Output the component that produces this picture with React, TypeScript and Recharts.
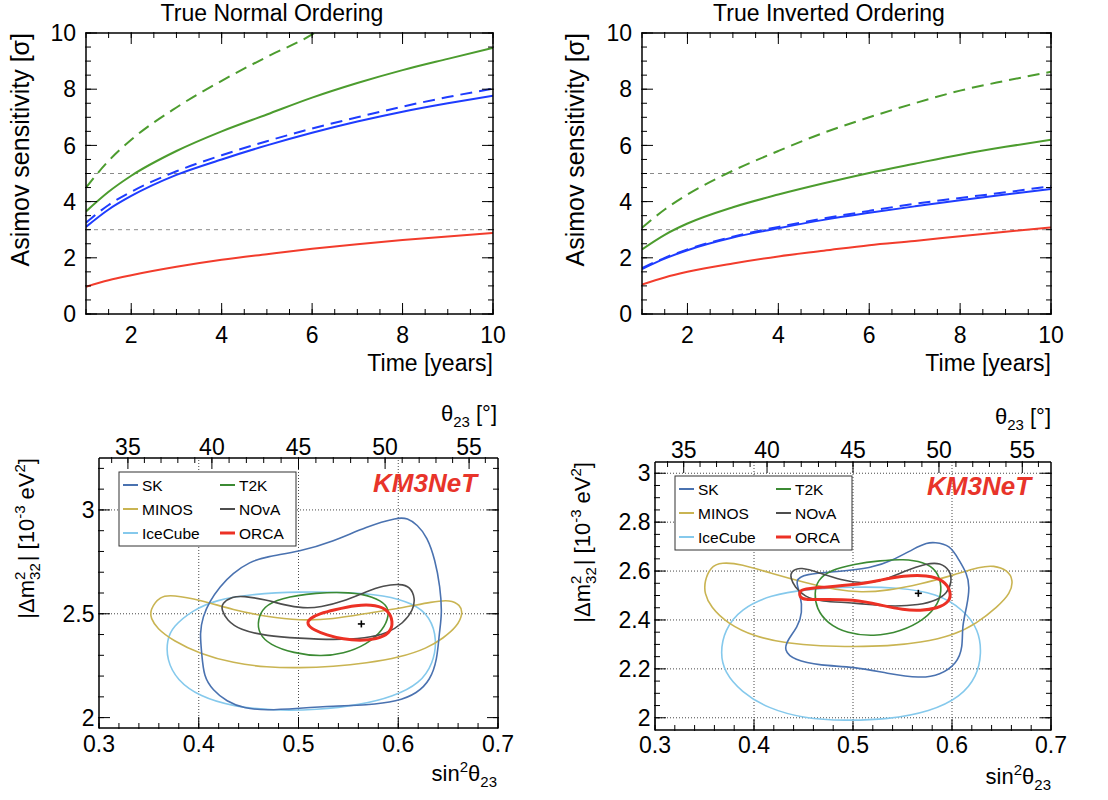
import React from 'react'
import { ComposedChart, Line, Scatter, XAxis, YAxis, ReferenceLine } from 'recharts'

const FONT = '"Liberation Sans", Arial, Helvetica, sans-serif'
const AXIS = { stroke: '#000', strokeWidth: 1.5 }
const TICKLINE = { stroke: '#000', strokeWidth: 1 }
const TICKFONT = { fontSize: 23, fill: '#000', fontFamily: FONT }

// ---- top panels: Asimov sensitivity vs. time
const years = [1, 1.5, 2, 3, 4, 5, 6, 7, 8, 9, 10]
const yearsGreenDashNO = [1, 1.5, 2, 3, 4, 5, 6, 6.05]

const greenDashNO = [4.5, 5.45, 6.2, 7.35, 8.3, 9.15, 9.95, 10.0]
const greenNO = [3.65, 4.35, 4.92, 5.8, 6.5, 7.1, 7.7, 8.22, 8.68, 9.08, 9.47]
const blueDashNO = [3.25, 3.88, 4.35, 5.08, 5.65, 6.15, 6.6, 7.0, 7.38, 7.72, 8.02]
const blueNO = [3.1, 3.72, 4.2, 4.95, 5.5, 6.0, 6.45, 6.85, 7.2, 7.5, 7.77]
const redNO = [0.97, 1.2, 1.38, 1.68, 1.93, 2.13, 2.32, 2.48, 2.63, 2.76, 2.88]

const greenDashIO = [3.07, 3.72, 4.25, 5.1, 5.8, 6.45, 7.0, 7.5, 7.95, 8.3, 8.62]
const greenIO = [2.3, 2.82, 3.22, 3.8, 4.25, 4.65, 5.02, 5.35, 5.67, 5.95, 6.2]
const blueDashIO = [1.63, 2.0, 2.3, 2.75, 3.1, 3.4, 3.67, 3.92, 4.13, 4.33, 4.55]
const blueIO = [1.6, 1.97, 2.27, 2.72, 3.05, 3.35, 3.6, 3.83, 4.05, 4.25, 4.45]
const redIO = [1.05, 1.3, 1.5, 1.8, 2.05, 2.25, 2.45, 2.6, 2.77, 2.93, 3.08]

const sigmaRefs = [3, 5]
const timeLabels = [2, 4, 6, 8, 10]
const sigmaLabels = [0, 2, 4, 6, 8, 10]

// ---- bottom panels: contours in (sin^2 theta23, |dm2_32|)
type Pt = [number, number]

const skNO: Pt[] = [[0.600, 2.965], [0.568, 2.92], [0.535, 2.848], [0.501, 2.80], [0.468, 2.775], [0.451, 2.75], [0.434, 2.695], [0.421, 2.63], [0.411, 2.56], [0.404, 2.486], [0.401, 2.406], [0.403, 2.31], [0.405, 2.197], [0.414, 2.133], [0.428, 2.077], [0.445, 2.045], [0.468, 2.034], [0.501, 2.045], [0.535, 2.056], [0.568, 2.06], [0.599, 2.077], [0.619, 2.117], [0.632, 2.18], [0.639, 2.278], [0.641, 2.406], [0.644, 2.5], [0.642, 2.63], [0.637, 2.76], [0.629, 2.87], [0.619, 2.93], [0.609, 2.96]]
const minosNO: Pt[] = [[0.351, 2.518], [0.361, 2.586], [0.374, 2.59], [0.401, 2.567], [0.435, 2.518], [0.468, 2.486], [0.501, 2.467], [0.535, 2.474], [0.568, 2.502], [0.602, 2.527], [0.635, 2.559], [0.652, 2.567], [0.662, 2.543], [0.665, 2.502], [0.659, 2.438], [0.645, 2.382], [0.629, 2.334], [0.602, 2.29], [0.568, 2.262], [0.535, 2.246], [0.501, 2.239], [0.468, 2.242], [0.435, 2.262], [0.401, 2.307], [0.374, 2.371], [0.358, 2.43], [0.352, 2.478]]
const iceNO: Pt[] = [[0.368, 2.374], [0.374, 2.438], [0.394, 2.518], [0.418, 2.567], [0.451, 2.594], [0.501, 2.607], [0.552, 2.603], [0.585, 2.59], [0.615, 2.551], [0.632, 2.486], [0.639, 2.374], [0.635, 2.262], [0.622, 2.165], [0.595, 2.101], [0.562, 2.061], [0.518, 2.037], [0.475, 2.034], [0.435, 2.053], [0.401, 2.101], [0.378, 2.181], [0.368, 2.278]]
const t2kNO: Pt[] = [[0.459, 2.47], [0.465, 2.534], [0.481, 2.575], [0.518, 2.602], [0.552, 2.605], [0.575, 2.583], [0.589, 2.543], [0.591, 2.494], [0.585, 2.422], [0.568, 2.35], [0.545, 2.307], [0.522, 2.294], [0.495, 2.31], [0.471, 2.35], [0.46, 2.406]]
const novaNO: Pt[] = [[0.423, 2.55], [0.434, 2.583], [0.444, 2.586], [0.468, 2.567], [0.485, 2.543], [0.505, 2.526], [0.522, 2.531], [0.545, 2.559], [0.568, 2.607], [0.585, 2.636], [0.602, 2.644], [0.612, 2.631], [0.617, 2.575], [0.615, 2.518], [0.605, 2.454], [0.589, 2.406], [0.568, 2.382], [0.535, 2.374], [0.501, 2.382], [0.468, 2.393], [0.441, 2.422], [0.428, 2.47], [0.423, 2.518]]
const orcaNO: Pt[] = [[0.508, 2.451], [0.511, 2.478], [0.522, 2.502], [0.535, 2.518], [0.558, 2.543], [0.578, 2.543], [0.59, 2.518], [0.595, 2.462], [0.592, 2.406], [0.578, 2.377], [0.562, 2.371], [0.545, 2.377], [0.528, 2.398], [0.515, 2.422]]
const bestNO: Pt = [0.563, 2.451]

const skIO: Pt[] = [[0.582, 2.718], [0.598, 2.707], [0.607, 2.645], [0.615, 2.591], [0.618, 2.536], [0.615, 2.454], [0.61, 2.372], [0.611, 2.29], [0.605, 2.222], [0.588, 2.175], [0.568, 2.161], [0.535, 2.181], [0.501, 2.209], [0.467, 2.213], [0.44, 2.236], [0.43, 2.277], [0.434, 2.318], [0.444, 2.372], [0.449, 2.427], [0.447, 2.509], [0.441, 2.563], [0.451, 2.588], [0.484, 2.598], [0.518, 2.611], [0.541, 2.645], [0.562, 2.693], [0.575, 2.716]]
const minosIO: Pt[] = [[0.35, 2.557], [0.356, 2.618], [0.367, 2.636], [0.387, 2.629], [0.417, 2.591], [0.451, 2.553], [0.484, 2.522], [0.508, 2.513], [0.535, 2.52], [0.568, 2.546], [0.602, 2.584], [0.629, 2.618], [0.642, 2.623], [0.656, 2.604], [0.662, 2.563], [0.659, 2.509], [0.646, 2.454], [0.625, 2.386], [0.602, 2.338], [0.568, 2.307], [0.535, 2.293], [0.501, 2.291], [0.467, 2.293], [0.434, 2.304], [0.4, 2.332], [0.373, 2.386], [0.356, 2.454], [0.35, 2.509]]
const iceIO: Pt[] = [[0.37, 2.359], [0.387, 2.447], [0.417, 2.502], [0.451, 2.525], [0.501, 2.536], [0.545, 2.533], [0.585, 2.509], [0.612, 2.441], [0.627, 2.359], [0.63, 2.263], [0.625, 2.168], [0.609, 2.086], [0.578, 2.025], [0.535, 1.993], [0.491, 1.988], [0.451, 1.997], [0.414, 2.038], [0.387, 2.106], [0.37, 2.188], [0.366, 2.263]]
const t2kIO: Pt[] = [[0.464, 2.563], [0.477, 2.604], [0.501, 2.629], [0.528, 2.643], [0.551, 2.649], [0.571, 2.638], [0.585, 2.604], [0.59, 2.536], [0.587, 2.468], [0.572, 2.4], [0.548, 2.352], [0.521, 2.332], [0.494, 2.345], [0.474, 2.386], [0.463, 2.447], [0.461, 2.509]]
const novaIO: Pt[] = [[0.437, 2.598], [0.447, 2.618], [0.467, 2.591], [0.488, 2.563], [0.508, 2.55], [0.528, 2.557], [0.551, 2.598], [0.575, 2.632], [0.588, 2.634], [0.598, 2.604], [0.6, 2.557], [0.595, 2.509], [0.585, 2.482], [0.568, 2.461], [0.535, 2.454], [0.501, 2.471], [0.467, 2.475], [0.451, 2.495], [0.441, 2.536], [0.437, 2.571]]
const orcaIO: Pt[] = [[0.446, 2.512], [0.447, 2.525], [0.467, 2.533], [0.501, 2.543], [0.528, 2.563], [0.551, 2.581], [0.575, 2.584], [0.592, 2.563], [0.599, 2.516], [0.598, 2.475], [0.585, 2.447], [0.568, 2.438], [0.551, 2.441], [0.528, 2.461], [0.501, 2.484], [0.467, 2.484], [0.451, 2.482], [0.446, 2.495]]
const bestIO: Pt = [0.566, 2.509]

const expNames = ['SK', 'T2K', 'MINOS', 'NOvA', 'IceCube', 'ORCA']
const expColors: Record<string, string> = {
  SK: '#4a72b0',
  T2K: '#3b8a33',
  MINOS: '#c9b452',
  NOvA: '#4d4d4d',
  IceCube: '#85c9ec',
  ORCA: '#ec3125',
}

// tick labels
const sinLabels = [0.3, 0.4, 0.5, 0.6, 0.7]
const thetaLabels = [35, 40, 45, 50, 55]
const dmLabelsNO = [2, 2.5, 3]
const dmLabelsIO = [2, 2.2, 2.4, 2.6, 2.8, 3]

const GREEN = '#4c9c2e'
const BLUE = '#1e3cff'
const RED = '#f23c2c'

const r3 = (v: number) => Math.round(v * 1000) / 1000
const range = (a: number, b: number, step: number) => {
  const out: number[] = []
  for (let i = 0; a + i * step <= b + 1e-9; i++) out.push(r3(a + i * step))
  return out
}
const blank = () => ''

const timeTicks = range(1, 10, 0.5)
const sigmaTicks = range(0, 10, 0.5)
const sinTicks = range(0.3, 0.7, 0.02)
const thetaDegTicks = range(34, 56, 1)
const sin2 = (deg: number) => Math.sin((deg * Math.PI) / 180) ** 2
const toDeg = (v: number) => String(Math.round((Math.asin(Math.sqrt(v)) * 180) / Math.PI))

const common = { type: 'number' as const, allowDataOverflow: true, interval: 0 as const, tick: TICKFONT }

// four frame sides, each with a major (long tick) and a minor (short tick) axis
const AX_PAIRS: [string, string][] = [['b', 'l'], ['bm', 'lm'], ['t', 'r'], ['tm', 'rm']]

interface FrameSpec {
  xKey: string
  yKey?: string
  xDomain: [number, number]
  yDomain: [number, number]
  xMajor: number[]
  xMinor: number[]
  xFmt: (v: number) => string
  topMajor: number[]
  topMinor: number[]
  topFmt: ((v: number) => string) | null
  yMajor: number[]
  yMinor: number[]
  yFmt: (v: number) => string
  bottomMargin: number
  topMargin: number
  leftMargin: number
}

function frameAxes(f: FrameSpec) {
  return [
    <XAxis key="b" {...common} xAxisId="b" dataKey={f.xKey} domain={f.xDomain} ticks={f.xMajor} height={1}
      tickSize={-11} tickMargin={f.bottomMargin} tickLine={TICKLINE} axisLine={AXIS} tickFormatter={f.xFmt} />,
    <XAxis key="bm" {...common} xAxisId="bm" dataKey={f.xKey} domain={f.xDomain} ticks={f.xMinor} height={1}
      tickSize={-6} tickLine={TICKLINE} axisLine={false} tickFormatter={blank} />,
    <XAxis key="t" {...common} xAxisId="t" orientation="top" dataKey={f.xKey} domain={f.xDomain} ticks={f.topMajor} height={1}
      tickSize={-11} tickMargin={f.topMargin} tickLine={TICKLINE} axisLine={AXIS} tickFormatter={f.topFmt ?? blank} />,
    <XAxis key="tm" {...common} xAxisId="tm" orientation="top" dataKey={f.xKey} domain={f.xDomain} ticks={f.topMinor} height={1}
      tickSize={-6} tickLine={TICKLINE} axisLine={false} tickFormatter={blank} />,
    <YAxis key="l" {...common} yAxisId="l" dataKey={f.yKey} domain={f.yDomain} ticks={f.yMajor} width={1}
      tickSize={-11} tickMargin={f.leftMargin} tickLine={TICKLINE} axisLine={AXIS} tickFormatter={f.yFmt} />,
    <YAxis key="lm" {...common} yAxisId="lm" dataKey={f.yKey} domain={f.yDomain} ticks={f.yMinor} width={1}
      tickSize={-6} tickLine={TICKLINE} axisLine={false} tickFormatter={blank} />,
    <YAxis key="r" {...common} yAxisId="r" orientation="right" dataKey={f.yKey} domain={f.yDomain} ticks={f.yMajor} width={1}
      tickSize={-11} tickLine={TICKLINE} axisLine={AXIS} tickFormatter={blank} />,
    <YAxis key="rm" {...common} yAxisId="rm" orientation="right" dataKey={f.yKey} domain={f.yDomain} ticks={f.yMinor} width={1}
      tickSize={-6} tickLine={TICKLINE} axisLine={false} tickFormatter={blank} />,
  ]
}

interface SeriesDef {
  name: string
  xs: number[]
  ys: number[]
  color: string
  dashed: boolean
}

const seriesNO: SeriesDef[] = [
  { name: 'greenDash', xs: yearsGreenDashNO, ys: greenDashNO, color: GREEN, dashed: true },
  { name: 'green', xs: years, ys: greenNO, color: GREEN, dashed: false },
  { name: 'blueDash', xs: years, ys: blueDashNO, color: BLUE, dashed: true },
  { name: 'blue', xs: years, ys: blueNO, color: BLUE, dashed: false },
  { name: 'red', xs: years, ys: redNO, color: RED, dashed: false },
]
const seriesIO: SeriesDef[] = [
  { name: 'greenDash', xs: years, ys: greenDashIO, color: GREEN, dashed: true },
  { name: 'green', xs: years, ys: greenIO, color: GREEN, dashed: false },
  { name: 'blueDash', xs: years, ys: blueDashIO, color: BLUE, dashed: true },
  { name: 'blue', xs: years, ys: blueIO, color: BLUE, dashed: false },
  { name: 'red', xs: years, ys: redIO, color: RED, dashed: false },
]

function TimePanel({ left, plotL, plotR, series }: { left: number; plotL: number; plotR: number; series: SeriesDef[] }) {
  const W = 554
  const H = 390
  const top = 33
  const bottom = 314
  return (
    <div style={{ position: 'absolute', left, top: 0 }}>
      <ComposedChart width={W} height={H} margin={{ top: top - 2, left: plotL - 2, right: W - plotR - 2, bottom: H - bottom - 2 }}>
        {frameAxes({
          xKey: 't', xDomain: [1, 10], yDomain: [0, 10],
          xMajor: timeLabels, xMinor: timeTicks, xFmt: (v) => String(v),
          topMajor: timeLabels, topMinor: timeTicks, topFmt: null,
          yMajor: sigmaLabels, yMinor: sigmaTicks, yFmt: (v) => String(v),
          bottomMargin: 24, topMargin: 0, leftMargin: 21,
        })}
        {sigmaRefs.map((s) => (
          <ReferenceLine key={s} xAxisId="b" yAxisId="l" y={s} stroke="#8a8a8a" strokeWidth={1} strokeDasharray="4 4" />
        ))}
        {series.map((s, i) => (
          <Line
            key={s.name}
            xAxisId={AX_PAIRS[i % 4][0]}
            yAxisId={AX_PAIRS[i % 4][1]}
            data={s.ys.map((v, k) => ({ t: s.xs[k], v }))}
            dataKey="v"
            type="monotone"
            stroke={s.color}
            strokeWidth={2}
            strokeDasharray={s.dashed ? '12 7' : undefined}
            dot={false}
            activeDot={false}
            isAnimationActive={false}
          />
        ))}
      </ComposedChart>
    </div>
  )
}

interface ContourDef {
  name: string
  pts: Pt[]
}

const noShape = () => <g />
const crossShape = (p: any) => (
  <g stroke="#000" strokeWidth={1.6}>
    <line x1={p.cx - 3.5} y1={p.cy} x2={p.cx + 3.5} y2={p.cy} />
    <line x1={p.cx} y1={p.cy - 3.5} x2={p.cx} y2={p.cy + 3.5} />
  </g>
)

function ContourPanel({
  left, plotL, plotR, plotT, plotB, yDomain, yMajor, yMinor, yGrid, contours, best, topMargin, bottomMargin,
}: {
  left: number; plotL: number; plotR: number; plotT: number; plotB: number
  yDomain: [number, number]; yMajor: number[]; yMinor: number[]; yGrid: number[]
  contours: ContourDef[]; best: Pt; topMargin: number; bottomMargin: number
}) {
  const W = 554
  const H = 410
  const T0 = 390
  return (
    <div style={{ position: 'absolute', left, top: T0 }}>
      <ComposedChart width={W} height={H}
        margin={{ top: plotT - T0 - 2, left: plotL - left - 2, right: W - (plotR - left) - 2, bottom: H - (plotB - T0) - 2 }}>
        {frameAxes({
          xKey: 'x', yKey: 'y', xDomain: [0.3, 0.7], yDomain,
          xMajor: sinLabels, xMinor: sinTicks, xFmt: (v) => v.toFixed(1),
          topMajor: thetaLabels.map(sin2), topMinor: thetaDegTicks.map(sin2), topFmt: toDeg,
          yMajor, yMinor, yFmt: (v) => String(Math.round(v * 10) / 10),
          bottomMargin, topMargin, leftMargin: 15.5,
        })}
        {[0.4, 0.5, 0.6].map((g) => (
          <ReferenceLine key={'gx' + g} xAxisId="b" yAxisId="l" x={g} stroke="#333" strokeWidth={0.9} strokeDasharray="1 2" />
        ))}
        {yGrid.map((g) => (
          <ReferenceLine key={'gy' + g} xAxisId="b" yAxisId="l" y={g} stroke="#333" strokeWidth={0.9} strokeDasharray="1 2" />
        ))}
        {contours.map((c, i) => (
          <Scatter
            key={c.name}
            xAxisId={AX_PAIRS[i % 4][0]}
            yAxisId={AX_PAIRS[i % 4][1]}
            data={c.pts.map(([x, y]) => ({ x, y }))}
            line={{ stroke: expColors[c.name], strokeWidth: c.name === 'ORCA' ? 3 : 1.6 }}
            lineJointType="basisClosed"
            shape={noShape}
            isAnimationActive={false}
          />
        ))}
        <Scatter xAxisId="b" yAxisId="l" data={[{ x: best[0], y: best[1] }]} shape={crossShape} isAnimationActive={false} />
      </ComposedChart>
    </div>
  )
}

function Legend({ x0, y0 }: { x0: number; y0: number }) {
  const rows = [13, 37, 61]
  return (
    <g fontFamily={FONT} fontSize={15.5}>
      <rect x={x0} y={y0} width={177} height={74} fill="#fff" stroke="#333" strokeWidth={1} />
      {expNames.map((n, i) => {
        const col = i % 2
        const row = Math.floor(i / 2)
        const lx = x0 + (col === 0 ? 4 : 101)
        const cy = y0 + rows[row]
        return (
          <g key={n}>
            <line x1={lx} y1={cy} x2={lx + 15} y2={cy} stroke={expColors[n]} strokeWidth={n === 'ORCA' ? 3 : 2} />
            <text x={lx + 19} y={cy + 5.5} fill="#000">{n}</text>
          </g>
        )
      })}
    </g>
  )
}

function DmTitle({ x, y }: { x: number; y: number }) {
  return (
    <text transform={`translate(${x},${y}) rotate(-90)`} textAnchor="end" fontSize={22}>
      |Δm<tspan fontSize={15} dy={-9}>2</tspan>
      <tspan fontSize={15} dx={-8.3} dy={15}>32</tspan>
      <tspan dy={-6} dx={2}>| [10</tspan>
      <tspan fontSize={15} dy={-9}>-3</tspan>
      <tspan dy={9}> eV</tspan>
      <tspan fontSize={15} dy={-9}>2</tspan>
      <tspan dy={9}>]</tspan>
    </text>
  )
}

function SinTitle({ x, y }: { x: number; y: number }) {
  return (
    <text x={x} y={y} textAnchor="end" fontSize={22}>
      sin<tspan fontSize={15} dy={-9}>2</tspan>
      <tspan dy={9}>θ</tspan>
      <tspan fontSize={15} dy={6}>23</tspan>
    </text>
  )
}

function ThetaTitle({ x, y }: { x: number; y: number }) {
  return (
    <text x={x} y={y} textAnchor="end" fontSize={22}>
      θ<tspan fontSize={15} dy={6}>23</tspan>
      <tspan dy={-6}> [°]</tspan>
    </text>
  )
}

export default function App() {
  const contoursNO: ContourDef[] = [
    { name: 'IceCube', pts: iceNO },
    { name: 'MINOS', pts: minosNO },
    { name: 'SK', pts: skNO },
    { name: 'T2K', pts: t2kNO },
    { name: 'NOvA', pts: novaNO },
    { name: 'ORCA', pts: orcaNO },
  ]
  const contoursIO: ContourDef[] = [
    { name: 'IceCube', pts: iceIO },
    { name: 'MINOS', pts: minosIO },
    { name: 'SK', pts: skIO },
    { name: 'T2K', pts: t2kIO },
    { name: 'NOvA', pts: novaIO },
    { name: 'ORCA', pts: orcaIO },
  ]
  return (
    <div style={{ position: 'absolute', left: 0, top: 0, width: 1108, height: 800, background: '#fff', fontFamily: FONT }}>
      <TimePanel left={0} plotL={86} plotR={493} series={seriesNO} />
      <TimePanel left={554} plotL={642 - 554} plotR={1051 - 554} series={seriesIO} />
      <ContourPanel left={0} plotL={99} plotR={498} plotT={458} plotB={728} yDomain={[1.95, 3.25]}
        yMajor={dmLabelsNO} yMinor={range(2, 3.2, 0.1)} yGrid={[2.5, 3]} contours={contoursNO} best={bestNO}
        topMargin={14} bottomMargin={19} />
      <ContourPanel left={554} plotL={655} plotR={1051} plotT={462} plotB={730} yDomain={[1.95, 3.046]}
        yMajor={dmLabelsIO} yMinor={range(2, 3.0, 0.05)} yGrid={[2, 2.2, 2.4, 2.6, 2.8, 3]} contours={contoursIO} best={bestIO}
        topMargin={15} bottomMargin={18} />

      <svg width={1108} height={800} style={{ position: 'absolute', left: 0, top: 0, pointerEvents: 'none' }} fontFamily={FONT} fill="#000">
        <text x={272} y={21} textAnchor="middle" fontSize={23}>True Normal Ordering</text>
        <text x={829} y={21} textAnchor="middle" fontSize={23}>True Inverted Ordering</text>
        <text transform="translate(29,33) rotate(-90)" textAnchor="end" fontSize={25}>Asimov sensitivity [σ]</text>
        <text transform="translate(584,33) rotate(-90)" textAnchor="end" fontSize={25}>Asimov sensitivity [σ]</text>
        <text x={493} y={371} textAnchor="end" fontSize={23}>Time [years]</text>
        <text x={1051} y={371} textAnchor="end" fontSize={23}>Time [years]</text>

        <ThetaTitle x={497} y={421} />
        <ThetaTitle x={1051} y={424} />
        <SinTitle x={497} y={781} />
        <SinTitle x={1051} y={784} />
        <DmTitle x={34} y={458} />
        <DmTitle x={590} y={462} />

        <Legend x0={119} y0={472} />
        <Legend x0={675} y0={476} />
        <text x={373} y={492} fontSize={26} fontWeight="bold" fontStyle="italic" fill="#e8342a">KM3NeT</text>
        <text x={927} y={495} fontSize={26} fontWeight="bold" fontStyle="italic" fill="#e8342a">KM3NeT</text>
      </svg>
    </div>
  )
}
